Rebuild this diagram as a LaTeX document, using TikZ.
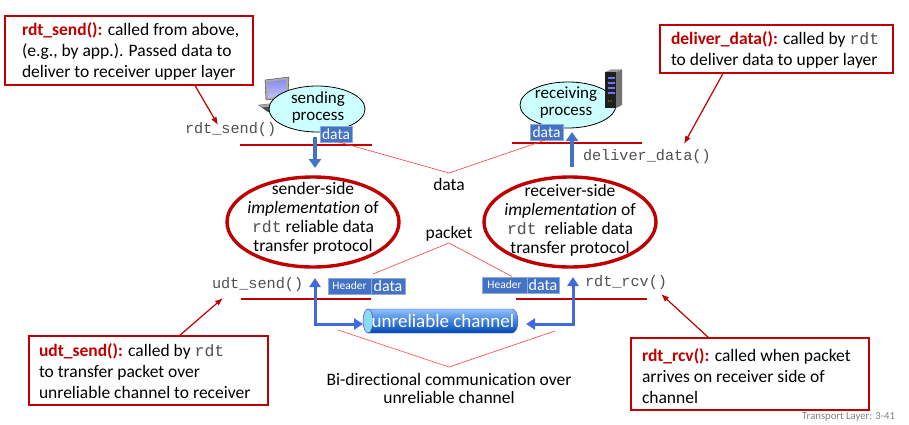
\documentclass[tikz,border=0pt]{standalone}
\usepackage{fontspec}
\setmainfont{Carlito}[Ligatures=NoCommon]
\setmonofont{Liberation Mono}
\usetikzlibrary{arrows.meta,calc,shapes.geometric}
\definecolor{dred}{HTML}{C00000}
\definecolor{lred}{HTML}{FF3B3B}
\definecolor{dblue}{HTML}{4472C4}
\definecolor{bblue}{HTML}{4169E1}
\definecolor{monogray}{HTML}{505050}
\definecolor{cyanfill}{HTML}{CCFFFF}
\newcommand{\mtt}[1]{{\fontsize{16.5}{19}\ttfamily\color{monogray}#1}}
\newcommand{\rtitle}[1]{\textcolor{dred}{\textbf{#1}}}
\begin{document}
\begin{tikzpicture}[x=1pt,y=-1pt,
  every node/.style={inner sep=0pt,outer sep=0pt},
  callout/.style={draw=dred,line width=1.3pt,fill=white,inner sep=0pt},
  callouttext/.style={anchor=west,align=left,font=\fontsize{17.5}{21}\selectfont},
  calloutarrow/.style={draw=dred,line width=1.2pt,-{Latex[length=8pt,width=6pt]}},
  protoellipse/.style={ellipse,draw=dred,line width=3.4pt,minimum width=172pt,minimum height=90pt},
  prototext/.style={align=center,font=\fontsize{17.5}{19}\selectfont},
  procellipse/.style={ellipse,draw=black,line width=0.8pt,fill=cyanfill,minimum width=96pt,minimum height=46pt},
  proctext/.style={align=center,font=\fontsize{17}{17}\selectfont},
  monolabel/.style={anchor=west,font=\fontsize{15.2}{15}\ttfamily,text=monogray},
  redline/.style={draw=dred,line width=1.3pt},
  bracketline/.style={draw=lred,line width=0.6pt},
  bluebox/.style={fill=dblue,draw=dblue!60!white,line width=0.6pt,text=white,minimum height=16pt},
  toparrow/.style={draw=dblue,line width=4pt,-{Triangle[length=9pt,width=12pt]}},
  lowarrow/.style={draw=bblue,line width=3pt,line join=miter,{Triangle[length=9pt,width=11pt]}-{Triangle[length=9pt,width=11pt]}},
  plaintext/.style={font=\fontsize{17.5}{18}\selectfont,align=center}
]
\useasboundingbox (0,0) rectangle (909,425);

% ---------- callout boxes ----------
\node[callout,minimum width=248pt,minimum height=69pt] (box1) at (129,50.5) {};
\node[callouttext] (box1t) at (22,51) {\rtitle{rdt\_send():} called from above,\\(e.g., by app.). Passed data to\\deliver to receiver upper layer};

\node[callout,minimum width=233pt,minimum height=48pt] (box2) at (776.5,49) {};
\node[callouttext] (box2t) at (671,50) {\rtitle{deliver\_data():} called by \mtt{rdt}\\to deliver data to upper layer};

\node[callout,minimum width=239pt,minimum height=69pt] (box3) at (148.5,370.5) {};
\node[callouttext] (box3t) at (39,371) {\rtitle{udt\_send():} called by \mtt{rdt}\\to transfer packet over\\unreliable channel to receiver};

\node[callout,minimum width=238pt,minimum height=72pt] (box4) at (750,374) {};
\node[callouttext] (box4t) at (642,376) {\rtitle{rdt\_rcv():} called when packet\\arrives on receiver side of\\channel};

% ---------- mono labels ----------
\node[monolabel] (rdtsend) at (185,130) {rdt\_send()};
\node[monolabel] (deliver) at (583,157) {deliver\_data()};
\node[monolabel] (udtsend) at (212,285) {udt\_send()};
\node[monolabel] (rdtrcv) at (585,283) {rdt\_rcv()};

% callout arrows
\coordinate (a1s) at (195,85.5); \coordinate (a1t) at (218,125);
\coordinate (a2s) at (723,73.5); \coordinate (a2t) at (684,144);
\coordinate (a3s) at (179,336); \coordinate (a3t) at (223,298);
\coordinate (a4s) at (709,338); \coordinate (a4t) at (661,294);
\draw[calloutarrow] (a1s) -- (a1t);
\draw[calloutarrow] (a2s) -- (a2t);
\draw[calloutarrow] (a3s) -- (a3t);
\draw[calloutarrow] (a4s) -- (a4t);

% ---------- computer icon ----------
\fill[gray!65] (265,80) -- (289,77) -- (288,98) -- (266,100) -- cycle;
\draw[gray!40!black,line width=0.4pt] (265,80) -- (289,77) -- (288,98) -- (266,100) -- cycle;
\shade[top color=black!20!blue!45!white,bottom color=blue!25!white] (267.5,82) -- (286.5,79.5) -- (285.8,95.8) -- (268.2,97.8) -- cycle;
\fill[gray!70] (273,100) -- (281,99) -- (282,103) -- (272,104) -- cycle;
\fill[black!70] (258,105) -- (279,102.5) -- (290,108) -- (268,112) -- cycle;
\fill[black!35] (259,105) -- (279,103) -- (283,105) -- (262,107.5) -- cycle;

% ---------- process ellipses ----------
\node[procellipse] (sproc) at (317,109) {};
\node[proctext] (sproct) at (318,107) {sending\\process};
\node[procellipse] (rproc) at (568,105) {};
\node[proctext] (rproct) at (566,103) {receiving\\process};

% ---------- server icon ----------
\fill[black!55] (616,72) -- (622,69.5) -- (622,105) -- (616,108) -- cycle;
\fill[black!40] (605,72) -- (611,69.5) -- (622,69.5) -- (616,72) -- cycle;
\fill[black!88] (605,72) rectangle (616,108);
\foreach \yy in {78,83,88,93}{\draw[blue!55!white,line width=1.3pt] (607.5,\yy) -- (614.5,\yy);}
\fill[red!80] (608.5,101) circle (0.9pt);
\fill[green!70!black] (611,101) circle (0.9pt);

% ---------- data boxes (top) ----------
\node[bluebox,minimum width=32pt,font=\fontsize{15.5}{16}\selectfont] (sdata) at (336,134.5) {data};
\node[bluebox,minimum width=33pt,font=\fontsize{15.5}{16}\selectfont] (rdata) at (546.5,132) {data};

% red lines top
\coordinate (srl1) at (240,145); \coordinate (srl2) at (372,145);
\coordinate (rrl1) at (512,143); \coordinate (rrl2) at (642,143);
\draw[redline] (srl1) -- (srl2);
\draw[redline] (rrl1) -- (rrl2);

% top blue arrows
\coordinate (sa1) at (315,137); \coordinate (sa2) at (315,168);
\coordinate (ra1) at (572,167); \coordinate (ra2) at (572,132);
\draw[toparrow] (sa1) -- (sa2);
\draw[toparrow] (ra1) -- (ra2);

% data bracket
\coordinate (dapex) at (449,173);
\coordinate (dl) at (337,141.5); \coordinate (dr) at (547,139.5);
\draw[bracketline] (dl) -- (dapex) -- (dr);
\node[plaintext] (datalbl) at (449,184) {data};

% ---------- protocol ellipses ----------
\node[protoellipse] (sender) at (313,222) {};
\node[prototext] (sendert) at (313,218) {sender-side\\\textit{implementation} of\\\mtt{rdt} reliable data\\transfer protocol};
\node[protoellipse] (receiver) at (570,222) {};
\node[prototext] (receivert) at (570,220) {receiver-side\\\textit{implementation} of\\\mtt{rdt}\ \ reliable data\\transfer protocol};

% packet bracket
\node[plaintext] (packetlbl) at (449,234) {packet};
\coordinate (papex) at (449,243);
\coordinate (pl) at (373,274); \coordinate (pr) at (512,276.5);
\draw[bracketline] (pl) -- (papex) -- (pr);

% header/data boxes
\node[bluebox,minimum width=43pt,font=\fontsize{11.5}{12}\selectfont] (shead) at (349.5,286) {Header};
\node[bluebox,minimum width=34pt,font=\fontsize{16}{16}\selectfont,anchor=west] (sdata2) at (shead.east) {data};
\node[bluebox,minimum width=45pt,font=\fontsize{11.5}{12}\selectfont] (rhead) at (504.5,285) {Header};
\node[bluebox,minimum width=32pt,font=\fontsize{16}{16}\selectfont,anchor=west] (rdata2) at (rhead.east) {data};

% red lines bottom
\coordinate (sbl1) at (241,299); \coordinate (sbl2) at (371,299);
\coordinate (rbl1) at (516,299); \coordinate (rbl2) at (647,299);
\draw[redline] (sbl1) -- (sbl2);
\draw[redline] (rbl1) -- (rbl2);

% ---------- channel ----------
\node[minimum width=155pt,minimum height=24pt] (chan) at (440.5,321) {};
\shade[top color=cyan!45!blue!45!white,middle color=cyan!50!blue!75,bottom color=cyan!40!blue!70!black]
  (368,309) -- (512,309) arc[start angle=-90,end angle=90,x radius=6,y radius=12] -- (368,333) -- cycle;
\draw[blue!50!black!70,line width=0.4pt]
  (368,309) -- (512,309) arc[start angle=-90,end angle=90,x radius=6,y radius=12] -- (368,333);
\filldraw[fill=cyan!45!white,draw=blue!50!black!70,line width=0.5pt] (368,321) ellipse[x radius=5,y radius=12];
\node[font=\fontsize{19}{19}\selectfont,text=white] (chant) at (443,321) {unreliable channel};

% lower blue arrows
\coordinate (stip) at (315,278); \coordinate (scorner) at (315,324); \coordinate (sch) at (363,324);
\coordinate (rtip) at (573,277); \coordinate (rcorner) at (573,324); \coordinate (rch) at (526,324);
\draw[lowarrow] (stip) -- (scorner) -- (sch);
\draw[lowarrow] (rtip) -- (rcorner) -- (rch);

% bi-directional bracket
\coordinate (bl) at (338,330); \coordinate (bapex) at (449,367); \coordinate (br) at (555,331);
\draw[bracketline] (bl) -- (bapex) -- (br);
\node[plaintext] (bidir) at (449,388.5) {Bi-directional communication over\\unreliable channel};

% footer
\node[anchor=east,font=\fontsize{10.7}{11}\selectfont,text=black!50] (footer) at (895,417) {Transport Layer: 3-41};
\end{tikzpicture}
\end{document}
